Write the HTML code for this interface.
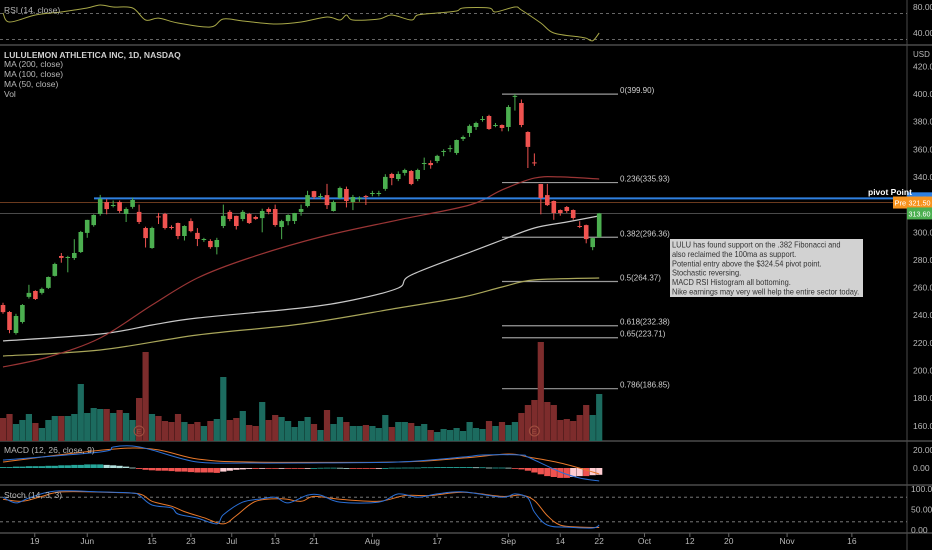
<!DOCTYPE html>
<html><head><meta charset="utf-8"><style>
html,body{margin:0;padding:0;background:#000;}
svg{display:block;font-family:"Liberation Sans",sans-serif;}
</style></head><body>
<svg id="chart" width="932" height="550" viewBox="0 0 932 550" xmlns="http://www.w3.org/2000/svg">
<rect x="0" y="0" width="932" height="550" fill="#000"/>
<g id="g-back"></g>
<g id="g-marks"></g>
<g id="g-text"></g>
</svg>
<script>
// ---------- DATA ----------
const opens=[247.4,242.3,227.1,235.1,253.2,257.5,256.1,259.7,268.4,282.8,281.8,281.4,285.7,299.5,305.2,313.2,321.9,319,321.9,313.2,318.3,314.7,303.1,288.6,311.5,313.2,303.8,306.7,297.3,308.1,299.5,294.4,293.7,289.3,304.5,314.7,311.8,309.6,313.2,311,310.3,316.8,316.8,303.8,308.1,308.1,314.7,319,329.8,325.5,326.9,315.4,324.8,331.3,321.9,324.1,326.2,328,328,331.3,342.1,338.5,342.9,344.3,338.5,349.4,350.1,351.5,358.5,360.5,357.3,367.5,371.8,376.1,381.5,384.1,377.3,377.6,376.1,398,393.5,372.5,350.5,334.9,326.9,322.6,316.1,318.3,316.1,304.5,305.2,289.3,296.36];
const closes=[242.3,229.3,239.4,247.4,256.1,251.7,259,267.6,277,281.4,282.1,285,300.2,308.9,312.5,324.1,316.8,319.7,315.4,316.8,323.3,307.4,295.8,303.1,311,303.1,303.1,297.3,304.5,300.9,295.1,295.1,289.3,294.4,311.8,309.6,304.5,314.7,306.7,309.6,315.4,314.7,305.2,308.1,312.5,313.9,316.8,326.9,325.5,326.2,319.7,321.9,332,322.6,325.5,324.8,325.5,328.4,328.4,340,339.2,342.1,345,334.9,345,350.1,348.6,355.2,358.8,360.9,366.7,368.9,376.9,379,381.9,374.7,377.6,375.4,390.6,398.6,377.6,361.7,350.1,324.8,319.7,313.9,313.9,315.4,310.3,303.8,295.1,295.8,313.6];
const highs=[249,243,241,248,262,258,260,268,278,285,283,295,301,309,313,327,324,323,323,318,325,320,304,304,314,314,305,307,305,310,303,296,295,296,320,316,312,316,314,312,317,318,320,309,313,314,320,330,330,328,335,323,333,333,327,326,327,330,330,342,343,344,346,345,346,354,352,356,360,363,367,370,378,380,384,385,379,378,392,399.9,396,373,357,335,335,323,316.5,319,316.5,308,305.5,296,314];
const lows=[241,227,226,234,252,251,255,259,268,278,271,280,285,296,304,312,313,318,314,307.4,317,306,289,288,306,302,302,295,294,300,290,293,288,284,303,308,302,308,306,309,300,313,304,295,305,306,312,318,324,324,316.8,315,324,318,316,322,319.7,326,326,330,334,337,341,334,337,345,346,350,355,358,356,366,369,374,380,374,376,373,373,388,376,346.5,348,313,319,309,312,314,309,303,292,287,296];
const volumes=[2.3,2.7,1.7,2.1,2.7,1.8,1.3,2.1,2.5,2.5,2.5,2.7,5.7,2.8,3.3,3.2,3.2,2.8,3.1,2.8,2.1,4.3,8.9,2.7,2.5,2.0,1.9,2.7,1.9,1.7,1.9,1.5,2.0,2.2,6.4,2.1,2.3,3.0,1.6,1.5,3.9,2.1,2.6,2.4,2.0,1.4,2.0,2.4,1.7,1.1,3.1,1.7,2.4,1.9,1.5,1.5,1.6,1.5,1.3,2.6,1.4,1.9,1.9,1.8,1.5,1.7,1.1,0.9,1.2,1.1,1.3,1.0,1.9,1.3,1.2,2.0,1.5,1.9,1.6,1.9,2.8,3.6,4.1,9.9,3.9,3.6,2.1,2.2,2.0,2.6,3.6,2.6,4.7];
const ma50Idx=[0,7,15,23,30,38,49,61,72,77,82,86,92];
const ma50Val=[202.5,209.8,223.5,247.4,266.9,281.4,296.6,308.9,319.7,330.6,339.2,340,338.5];
const ma100Idx=[0,15,23,30,46,54,61,63,73,77,82,87,92];
const ma100Val=[221.4,226.4,232.9,238,245.2,251,259.7,269.1,287.2,294.4,303.1,307.4,311.8];
const ma200Idx=[0,15,30,46,61,71,77,82,92];
const ma200Val=[210.5,214.8,225.7,233.6,245.2,253.2,260.4,265.5,266.9];
const rsiIdx=[0,1,5,9,11,13,15,17,20,22,24,27,32,34,37,42,46,50,52,53,54,58,60,63,64,67,70,71,75,76,79,80,83,85,89,90,91,92];
const rsiVal=[70.8,56.9,67.7,72.3,75.4,78.5,83,80,78.5,60,63,55.4,49.2,61.5,58.5,53.8,56.9,64.6,60,67.7,60,61.5,67.7,60,67.7,70.8,73.8,78.5,78.5,72.3,80,75.4,55.4,40,33.8,32,28,40];
const macdIdx=[0,15,17,20,23,30,38,46,61,71,74,80,81,86,89,92];
const macdVal=[8.9,17.8,23.3,24.4,20,6.7,5.6,5.6,6.7,12.2,14.4,14.4,12.2,-4.4,-11.1,-14.4];
const signalIdx=[0,20,30,38,61,71,78,81,86,91,92];
const signalVal=[6.7,22.2,10,6.7,6.7,11.1,15.6,12.2,5.6,-4.4,-6.7];
const histVal=[1,1,1.5,1.5,2,2,2,2.5,2.5,3,3,3.5,3.5,4,4,4,3.5,3,2.5,1.5,0.5,-1,-2,-2.5,-3,-3,-3.5,-4,-4,-4.5,-5,-5,-5,-5.5,-4,-3,-2,-1.5,-1,-1,-0.5,-0.5,-0.5,-0.3,-0.3,-0.5,-0.5,-0.3,0,0.2,0.3,0.3,0.2,0,-0.3,-0.5,-0.5,-0.5,-0.3,0,0.3,0.3,0.5,0.5,0.5,0.8,0.8,1,1,1,1,1,1,0.8,0.8,0.5,0.5,0.5,0.3,-0.5,-1.5,-3,-5,-7,-9,-10,-11,-11,-10,-9,-9,-8,-7.5];
const stochKIdx=[0,2,4,8,15,20,21,23,26,27,30,33,34,37,40,42,44,47,49,52,58,61,64,67,71,77,79,81,82,84,87,91,92];
const stochKVal=[80,66,78,95,93,90,85,61,54,39,29,15,37,68,76,80,66,85,85,68,68,88,80,88,93,80,88,78,44,12,7,5,12];
const stochDIdx=[0,3,6,9,16,21,23,26,28,31,34,36,39,43,46,48,52,58,62,66,71,77,80,82,84,86,89,92];
const stochDVal=[75,70,82,93,92,88,70,58,45,30,15,35,70,76,70,82,75,70,84,84,92,82,85,72,35,12,7,6];
const fibLevels=["0","0.236","0.382","0.5","0.618","0.65","0.786"];
const fibPrices=[399.90,335.93,296.36,264.37,232.38,223.71,186.85];
const priceTicks=[420,400,380,360,340,300,280,260,240,220,200,180,160];
const rsiTicks=[80,40];
const macdTicks=[20,0];
const stochTicks=[100,50,0];
const dateLabels=["19","Jun","15","23","Jul","13","21","Aug","17","Sep","14","22","Oct","12","20","Nov","16"];
const dateIdx=[4.9,13,23,29,35.3,42,48,57,67,78,86,92,99,106,112,121,131];
const pivotPrice=324.54, prePrice=321.50, lastPrice=313.60;
const earningsIdx=[21,82];

// ---------- SCALES ----------
const NS="http://www.w3.org/2000/svg";
const gB=document.getElementById('g-back'),gM=document.getElementById('g-marks'),gT=document.getElementById('g-text');
const xOf=i=>3+i*6.48;
const yP=p=>94+(400-p)*1.3825;
const yRsi=r=>7+(80-r)*0.65;
const yMacd=v=>468-v*0.9;
const yStoch=s=>530-s*0.41;
const VOL_BASE=441, VOL_H=99;
const maxVol=Math.max(...volumes);
const yVol=v=>VOL_BASE-v/maxVol*VOL_H;
function mk(tag,attrs,parent){const e=document.createElementNS(NS,tag);for(const k in attrs)e.setAttribute(k,attrs[k]);(parent||gM).appendChild(e);return e;}
function txt(s,x,y,attrs,parent){const e=mk('text',Object.assign({x:x,y:y,fill:'#b8b8b8','font-size':'8.5'},attrs||{}),parent||gT);e.textContent=s;return e;}
function smooth(idx,vals,yf){const p=idx.map((i,k)=>[xOf(i),yf(vals[k])]);let d='M'+p[0][0].toFixed(1)+','+p[0][1].toFixed(1);
for(let k=0;k<p.length-1;k++){const p0=p[k-1]||p[k],p1=p[k],p2=p[k+1],p3=p[k+2]||p2;
const c1=[p1[0]+(p2[0]-p0[0])/6,p1[1]+(p2[1]-p0[1])/6],c2=[p2[0]-(p3[0]-p1[0])/6,p2[1]-(p3[1]-p1[1])/6];
d+=' C'+c1[0].toFixed(1)+','+c1[1].toFixed(1)+' '+c2[0].toFixed(1)+','+c2[1].toFixed(1)+' '+p2[0].toFixed(1)+','+p2[1].toFixed(1);}return d;}

// ---------- PANELS ----------
[45,441,485,533].forEach(y=>{const l=mk('line',{x1:0,x2:932,y1:y,y2:y,stroke:'#4a4a4a','stroke-width':1.5},gB);

});
const vsep=mk('line',{x1:907,x2:907,y1:0,y2:550,stroke:'#4a4a4a','stroke-width':1},gB);


[70,30].forEach(v=>{const l=mk('line',{x1:0,x2:907,y1:yRsi(v),y2:yRsi(v),stroke:'#888','stroke-dasharray':'3,3','stroke-width':0.8},gB);

});
[80,20].forEach(v=>{const l=mk('line',{x1:0,x2:907,y1:yStoch(v),y2:yStoch(v),stroke:'#888','stroke-dasharray':'3,3','stroke-width':0.8},gB);

});

const preL=mk('line',{x1:0,x2:907,y1:yP(prePrice),y2:yP(prePrice),stroke:'#6b3a1e','stroke-width':1},gB);


const lastL=mk('line',{x1:0,x2:907,y1:yP(lastPrice),y2:yP(lastPrice),stroke:'#4a4a4a','stroke-width':1},gB);



fibPrices.forEach((p,k)=>{const l=mk('line',{x1:502,x2:618,y1:yP(p),y2:yP(p),stroke:'#9a9a9a','stroke-width':1.2},gB);


const t=txt(fibLevels[k]+'('+p.toFixed(2)+')',620,yP(p)-1,{fill:'#d0d0d0','font-size':'8'});

});

volumes.forEach((v,i)=>{const up=closes[i]>=opens[i];const r=mk('rect',{x:(xOf(i)-3.1).toFixed(1),y:yVol(v).toFixed(1),width:6.2,height:(VOL_BASE-yVol(v)).toFixed(1),fill:up?'#1c6b5f':'#7d2c2c'});

});
earningsIdx.forEach(i=>{const c=mk('circle',{cx:xOf(i),cy:431,r:5,fill:'none',stroke:'#a05040','stroke-width':1});


const t=txt('E',xOf(i)-2.5,434,{fill:'#a05040','font-size':'7'});

});

const m200=mk('path',{d:smooth(ma200Idx,ma200Val,yP),fill:'none',stroke:'#a9a65a','stroke-width':1.2});


const m100=mk('path',{d:smooth(ma100Idx,ma100Val,yP),fill:'none',stroke:'#c8c8c8','stroke-width':1.2});


const m50=mk('path',{d:smooth(ma50Idx,ma50Val,yP),fill:'none',stroke:'#9a3535','stroke-width':1.2});



const pv=mk('line',{x1:94,x2:907,y1:yP(pivotPrice),y2:yP(pivotPrice),stroke:'#2f80e0','stroke-width':2});



opens.forEach((o,i)=>{const c=closes[i],up=c>=o,col=up?'#4caf50':'#ef5350',x=xOf(i);
const w=mk('line',{x1:x,x2:x,y1:yP(highs[i]).toFixed(1),y2:yP(lows[i]).toFixed(1),stroke:col,'stroke-width':1});


const top=yP(Math.max(o,c)),h=Math.max(1,yP(Math.min(o,c))-top);
const b=mk('rect',{x:(x-2.3).toFixed(1),y:top.toFixed(1),width:4.6,height:h.toFixed(1),fill:col});

});

const rl=mk('path',{d:smooth(rsiIdx,rsiVal,yRsi),fill:'none',stroke:'#a8a848','stroke-width':1});



histVal.forEach((v,i)=>{const prev=i>0?histVal[i-1]:0;let col;
if(v>=0)col=v>=prev?'#26a69a':'#b2dfdb';else col=v<=prev?'#ef5350':'#ffcdd2';
const y0=yMacd(0),y1=yMacd(v);
const r=mk('rect',{x:(xOf(i)-3.1).toFixed(1),y:Math.min(y0,y1).toFixed(1),width:6.2,height:Math.max(0.8,Math.abs(y1-y0)).toFixed(1),fill:col});

});
const sg=mk('path',{d:smooth(signalIdx,signalVal,yMacd),fill:'none',stroke:'#e8782a','stroke-width':1});


const ml=mk('path',{d:smooth(macdIdx,macdVal,yMacd),fill:'none',stroke:'#2a6fd6','stroke-width':1});



const sd=mk('path',{d:smooth(stochDIdx,stochDVal,yStoch),fill:'none',stroke:'#e8782a','stroke-width':1});


const sk=mk('path',{d:smooth(stochKIdx,stochKVal,yStoch),fill:'none',stroke:'#2a6fd6','stroke-width':1});



priceTicks.forEach(p=>{const t=txt(p.toFixed(2),913,yP(p)+3);

});
rsiTicks.forEach(p=>{const t=txt(p.toFixed(2),913,yRsi(p)+3);

});
macdTicks.forEach(p=>{const t=txt(p.toFixed(2),913,yMacd(p)+3);

});
stochTicks.forEach(p=>{const t=txt(p.toFixed(2),911,yStoch(p)+3);

});
dateLabels.forEach((d,k)=>{const x=xOf(dateIdx[k]);
const tk=mk('line',{x1:x,x2:x,y1:533,y2:537,stroke:'#666'},gB);


const t=txt(d,x,544,{'text-anchor':'middle'});

});

function tag(val,bg,fg,name){const y=yP(val);
const r=mk('rect',{x:907,y:y-6,width:25,height:12,fill:bg},gT);


const t=txt(val.toFixed(2),908.5,y+3,{fill:fg,'font-size':'7.5',textLength:'22',lengthAdjust:'spacingAndGlyphs'});

}
tag(pivotPrice,'#2f80e0','#fff','pivot-price-tag');
tag(prePrice,'#f7931e','#fff','premarket-price-tag');
tag(lastPrice,'#4caf50','#fff','last-price-tag');
const preBox=mk('rect',{x:893,y:yP(prePrice)-6,width:14,height:12,fill:'#f7931e'},gT);


const preTxt=txt('Pre',894.5,yP(prePrice)+3,{fill:'#fff','font-size':'7.5'});


</script>
<script>
(function(){
const gT=document.getElementById('g-text');const NS="http://www.w3.org/2000/svg";
function t(s,x,y,fs,fill,w,name,parent){const e=document.createElementNS(NS,'text');e.setAttribute('x',x);e.setAttribute('y',y);e.setAttribute('font-size',fs);e.setAttribute('fill',fill);if(w)e.setAttribute('font-weight',w);


e.textContent=s;(parent||gT).appendChild(e);return e;}
t('RSI (14, close)',4,13,8.5,'#b8b8b8',null,'rsi-title');
t('LULULEMON ATHLETICA INC, 1D, NASDAQ',4,58,8.5,'#d0d0d0','bold','symbol-title');
t('MA (200, close)',4,67,8.5,'#b8b8b8',null,'ma-200-legend');
t('MA (100, close)',4,77,8.5,'#b8b8b8',null,'ma-100-legend');
t('MA (50, close)',4,87,8.5,'#b8b8b8',null,'ma-50-legend');
t('Vol',4,97,8.5,'#b8b8b8',null,'volume-legend');
t('MACD (12, 26, close, 9)',4,453,8.5,'#b8b8b8',null,'macd-title');
t('Stoch (14, 3, 3)',4,498,8.5,'#b8b8b8',null,'stoch-title');
t('pivot Point',868,195,8.5,'#fff','bold','pivot-point-label');
t('USD',913,57,8,'#b8b8b8',null,'currency-label');
const box=document.createElementNS(NS,'rect');
box.setAttribute('x',670);box.setAttribute('y',239);box.setAttribute('width',193);box.setAttribute('height',58);box.setAttribute('fill','#d2d2d2');


gT.appendChild(box);
const g=document.createElementNS(NS,'g');g.setAttribute('transform','translate(672,0) scale(0.9,1)');


gT.appendChild(g);
const lines=['LULU has found support on the .382 Fibonacci and','also reclaimed the 100ma as support.','Potential entry above the $324.54 pivot point.','Stochastic reversing.','MACD RSI Histogram all bottoming.','Nike earnings may very well help the entire sector today.'];
lines.forEach((s,k)=>{const e=t(s,0,247.5+k*9.4,8.3,'#333',null,'annotation-text-line',g);
if(k===5){e.setAttribute('textLength','208');e.setAttribute('lengthAdjust','spacingAndGlyphs');}});
})();
</script>
</body></html>
